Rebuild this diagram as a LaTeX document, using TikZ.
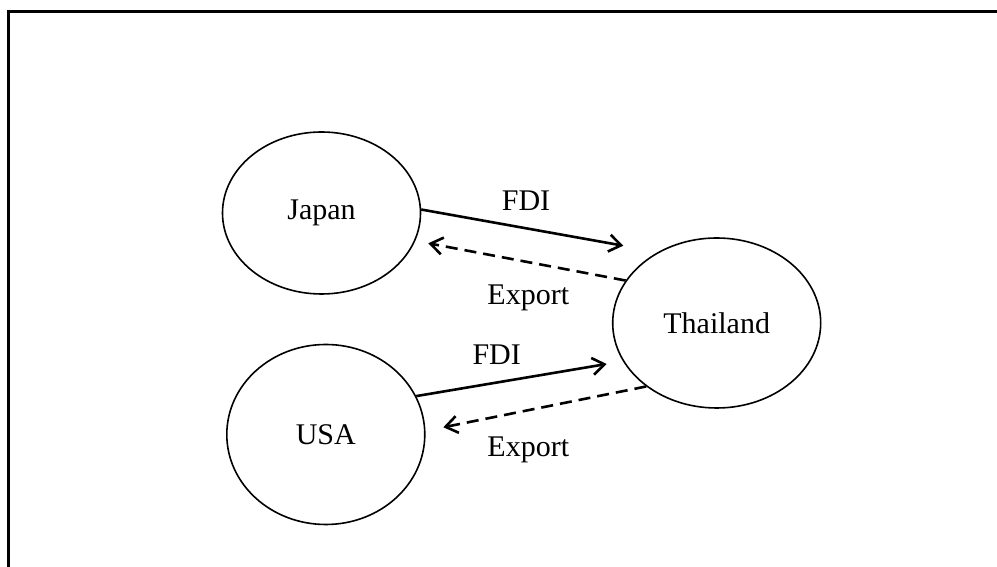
\documentclass[tikz,border=0pt]{standalone}
\usepackage{fontspec}
\setmainfont{Liberation Serif}
\usetikzlibrary{arrows.meta,shapes.geometric}
\begin{document}
\begin{tikzpicture}[x=1pt,y=1pt,
  country/.style={draw,ellipse,line width=1.6pt,inner sep=0pt,font=\fontsize{30}{36}\selectfont},
  lbl/.style={inner sep=0pt,font=\fontsize{30}{36}\selectfont},
  fdi/.style={line width=2.6pt,-{Straight Barb[length=12pt,width=17pt,line width=2.6pt]}},
  expo/.style={line width=2.6pt,dash pattern=on 12pt off 7pt,-{Straight Barb[length=12pt,width=17pt,line width=2.6pt]}}]
\clip (0,0) rectangle (997,567);
\fill[white] (0,0) rectangle (997,567);
\draw[line width=2.6pt] (8.5,-10) -- (8.5,555.5) -- (1010,555.5);
\node[country,minimum width=198pt,minimum height=162pt] (japan) at (321.5,354) {Japan};
\node[country,minimum width=208pt,minimum height=170pt] (thai) at (716.7,244) {Thailand};
\node[country,minimum width=198pt,minimum height=180pt] (usa) at (325.8,132.5) {USA};
\coordinate (jf) at (623.3,321.3);
\coordinate (je) at (428.3,323.7);
\coordinate (uf) at (606.7,203);
\coordinate (ue) at (443.3,139.7);
\draw[fdi] (japan.2) -- (jf);
\draw[expo] (thai.155) -- (je);
\draw[fdi] (usa.23) -- (uf);
\draw[expo] (thai.222) -- (ue);
\node[lbl] (l1) at (526,366.3) {FDI};
\node[lbl] (l2) at (528.3,268.7) {Export};
\node[lbl] (l3) at (496.7,212) {FDI};
\node[lbl] (l4) at (528.3,117) {Export};
\end{tikzpicture}
\end{document}
